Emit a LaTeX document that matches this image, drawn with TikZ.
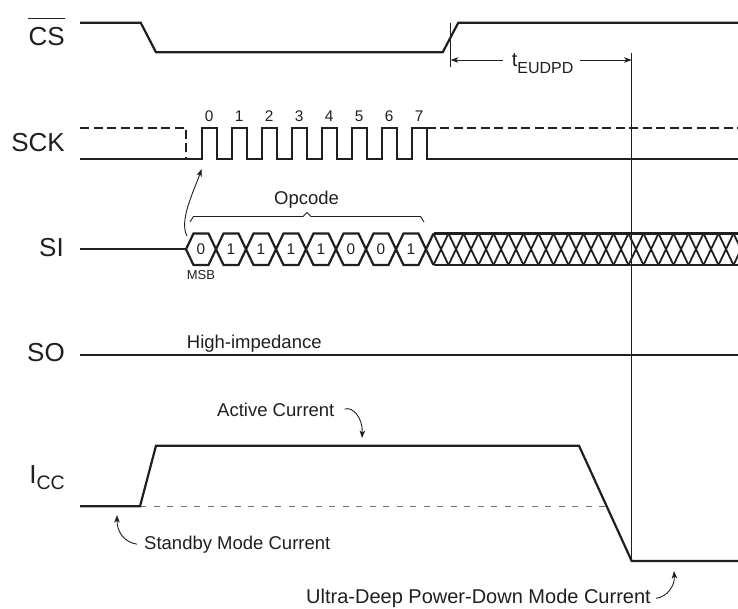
\documentclass[tikz,border=0pt]{standalone}
\usepackage{fontspec}
\setmainfont{Liberation Sans}
\usetikzlibrary{arrows.meta}
\begin{document}
\begin{tikzpicture}[x=1pt,y=-1pt,
  sig/.style={line width=2.2pt, line join=miter, draw=black!88},
  hatch/.style={line width=1.8pt, draw=black!88},
  sckdash/.style={sig, dash pattern=on 9pt off 4.5pt},
  lbl/.style={inner sep=0pt, text=black!88, font=\fontsize{26}{30}\selectfont},
  note/.style={inner sep=0pt, text=black!88, font=\fontsize{18.5}{22}\selectfont},
  digit/.style={inner sep=0pt, text=black!88, font=\fontsize{15.4}{18}\selectfont},
  fine/.style={line width=1pt, draw=black!88},
  tip/.style={-{Stealth[length=7.5pt,width=5.5pt,inset=2pt]}, line width=0.9pt, draw=black!88},
  refline/.style={line width=1.2pt, draw=black!55, dash pattern=on 6pt off 7.5pt},
]
\useasboundingbox (0,0) rectangle (738,608);

% ---------- signal labels ----------
\node[lbl, anchor=base east] (cs) at (65,45.7) {CS};
\draw[line width=1.1pt, draw=black!88] ([yshift=9pt]cs.north west) -- ([yshift=9pt]cs.north east);
\node[lbl, anchor=base east] (sck) at (65,151) {SCK};
\node[lbl, anchor=base east] (si) at (64,256.7) {SI};
\node[lbl, anchor=base east] (so) at (65,361.5) {SO};
\node[lbl, anchor=base east] (icc) at (65,483) {I\raisebox{-6pt}{\fontsize{19.5}{22}\selectfont CC}};

% ---------- CS ----------
\draw[sig] (80,22.7) -- (140.7,22.7) -- (156,52.3) -- (442.7,52.3) -- (458.3,22.7) -- (738,22.7);

% ---------- tEUDPD ----------
\coordinate (tl) at (450.7,60);
\coordinate (tr) at (631.7,60);
\draw[fine] (450.7,22.7) -- (450.7,66.7);
\node[inner sep=0pt, anchor=base west, text=black!88, font=\fontsize{20}{24}\selectfont] (teudpd) at (511.7,66.7) {t\raisebox{-6.6pt}{\fontsize{16}{18}\selectfont EUDPD}};
\coordinate (tla) at (503,60);
\coordinate (tra) at (580,60);
\draw[tip] (tla) -- (tl);
\draw[tip] (tra) -- (tr);
\coordinate (vtop) at (631.7,53.3);
\coordinate (vbot) at (631.7,561);
\draw[fine] (vtop) -- (vbot);

% ---------- SCK ----------
\draw[sckdash] (80,127.7) -- (186,127.7) -- (186,159);
\draw[sckdash] (426.7,127.7) -- (738,127.7);
\draw[sig] (80,159) -- (201.7,159)
  \foreach \i in {0,...,7} { -- ({201.7+30*\i},127.7) -- ({216.7+30*\i},127.7) -- ({216.7+30*\i},159) -- ({231.7+30*\i},159) }
  -- (738,159);
\foreach \i in {0,...,7} { \node[digit] (d\i) at ({209.2+30*\i},116) {\i}; }

% ---------- SI ----------
\draw[sig] (80,249.3) -- (186,249.3);
\foreach \b [count=\j from 0] in {0,1,1,1,1,0,0,1} {
  \pgfmathsetmacro\xa{186+30*\j}
  \draw[sig] (\xa,249.3) -- (\xa+7.5,233.5) -- (\xa+22.5,233.5) -- (\xa+30,249.3) -- (\xa+22.5,265) -- (\xa+7.5,265) -- cycle;
  \node[digit] (b\j) at (\xa+15,249.3) {\b};
}
\begin{scope}
  \clip (420,220) rectangle (738,280);
  \draw[sig] (433.5,233.5) -- (426,249.3) -- (433.5,265);
  \draw[sig] (433.5,233.5) -- (745,233.5);
  \draw[sig] (433.5,265) -- (745,265);
  \foreach \k in {0,...,21} {
    \draw[hatch] ({433.5+15*\k},233.5) -- ({448.5+15*\k},265);
    \draw[hatch] ({433.5+15*\k},265) -- ({448.5+15*\k},233.5);
  }
\end{scope}
\node[inner sep=0pt, anchor=base, text=black!88, font=\fontsize{13}{15}\selectfont] (msb) at (201,279.3) {MSB};
\node[note, anchor=base] (opcode) at (306.5,204) {Opcode};
\draw[line width=0.9pt, draw=black!88] (190,222) -- (193.5,216.5) -- (303,216.5) -- (307,212.5) -- (311,216.5) -- (420.5,216.5) -- (424,222);
\coordinate (sistart) at (187,236);
\coordinate (scktip) at (201.7,169);
\draw[tip] (sistart) .. controls (179,221) and (193,193) .. (scktip);

% ---------- SO ----------
\draw[sig] (80,355) -- (738,355);
\node[note, anchor=base west] (hiz) at (186.7,348.3) {High-impedance};

% ---------- ICC ----------
\draw[refline] (140,506.3) -- (605,506.3);
\draw[sig] (80,506.3) -- (140,506.3) -- (156,445.7) -- (579,445.7) -- (631.7,561) -- (738,561);
\node[note, anchor=base west] (active) at (217,416.7) {Active Current};
\coordinate (activetip) at (362,438);
\draw[tip] ([xshift=10pt,yshift=1pt]active.east) .. controls +(8,-3) and (363,418) .. (activetip);
\node[note, anchor=base west] (standby) at (144,549) {Standby Mode Current};
\coordinate (standbytip) at (117,515);
\draw[tip] ([xshift=-7pt]standby.west) .. controls (124,542) and (117,532) .. (standbytip);
\node[inner sep=0pt, text=black!88, font=\fontsize{20}{23}\selectfont, anchor=base east] (udpd) at (651,603.5) {Ultra-Deep Power-Down Mode Current};
\coordinate (udpdtip) at (674,571);
\draw[tip] ([xshift=5pt]udpd.east) .. controls (667,597) and (675,586) .. (udpdtip);
\end{tikzpicture}
\end{document}
